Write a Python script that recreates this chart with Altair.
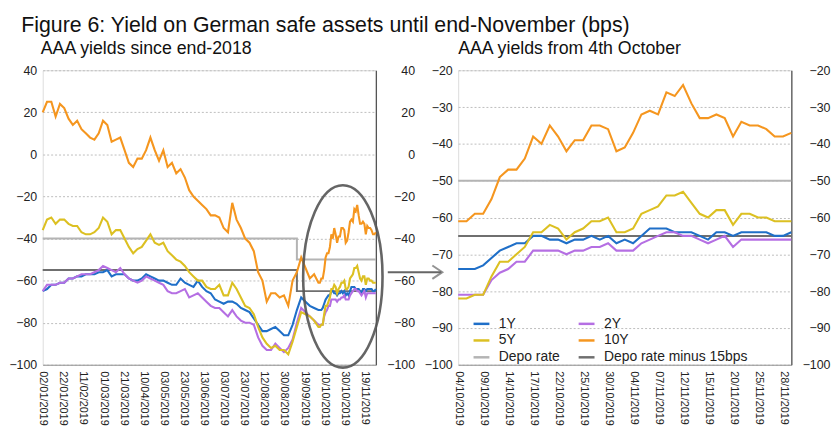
import altair as alt
import pandas as pd

# ---------------- data ----------------
HOLIDAYS = ["2019-04-19", "2019-04-22", "2019-05-01", "2019-06-10", "2019-10-03"]
_bd = pd.bdate_range("2019-01-02", "2019-11-29")
_bd = _bd[~_bd.isin(pd.to_datetime(HOLIDAYS))]
ALL_DATES = [d.strftime("%d/%m/%Y") for d in _bd]          # 233 trading days
OCT_START = ALL_DATES.index("04/10/2019")                   # 192
EARLY_DATES = ALL_DATES[0:190:3]                            # sampled Jan-Sep
OCT_DATES = ALL_DATES[OCT_START:]                           # daily from 4 Oct

LEFT_TICKS = ["02/01/2019", "22/01/2019", "11/02/2019", "01/03/2019", "21/03/2019",
              "10/04/2019", "03/05/2019", "23/05/2019", "13/06/2019", "03/07/2019",
              "23/07/2019", "12/08/2019", "30/08/2019", "19/09/2019", "10/10/2019",
              "30/10/2019", "19/11/2019"]
RIGHT_TICKS = ["04/10/2019", "09/10/2019", "14/10/2019", "17/10/2019", "22/10/2019",
               "25/10/2019", "30/10/2019", "04/11/2019", "07/11/2019", "12/11/2019",
               "15/11/2019", "20/11/2019", "25/11/2019", "28/11/2019"]

Y1_EARLY = [-65, -64, -62, -62, -61, -61, -59, -59, -58, -58,
            -57, -57, -57, -56, -56, -55, -58, -57, -57, -57,
            -59, -60, -60, -59, -57, -58, -59, -60, -60, -61,
            -62, -62, -59, -61, -62, -63, -60, -63, -65, -66,
            -69, -70, -71, -70, -70, -71, -73, -74, -75, -78,
            -81, -84, -84, -83, -82, -84, -86, -86, -81, -74,
            -68, -70, -72, -73]
Y2_EARLY = [-65, -62, -62, -62, -61, -61, -59, -59, -58, -57,
            -57, -57, -56, -55, -53, -54, -55, -56, -54, -57,
            -59, -60, -61, -60, -58, -59, -60, -61, -62, -65,
            -66, -66, -65, -64, -68, -67, -66, -68, -70, -72,
            -73, -73, -75, -77, -74, -77, -79, -80, -80, -81,
            -87, -91, -93, -93, -90, -92, -94, -92, -88, -80,
            -73, -75, -77, -79]
Y5_EARLY = [-36, -31, -30, -33, -31, -31, -33, -34, -34, -37,
            -38, -38, -37, -35, -30, -32, -38, -36, -36, -40,
            -44, -47, -45, -44, -41, -38, -42, -43, -42, -46,
            -48, -50, -51, -53, -56, -58, -60, -60, -63, -64,
            -64, -62, -67, -67, -61, -64, -68, -72, -73, -76,
            -82, -87, -90, -92, -91, -93, -93, -95, -89, -82,
            -75, -76, -77, -79]
Y10_EARLY = [20, 25, 25, 18, 24, 22, 17, 14, 16, 12,
             10, 8, 7, 10, 16, 14, 6, 7, 8, 2,
             -4, -6, -2, -2, 2, 8, 2, -3, 2, -6,
             -4, -9, -7, -11, -17, -20, -22, -24, -26, -29,
             -29, -30, -35, -37, -23, -31, -35, -40, -42, -46,
             -56, -60, -70, -66, -66, -68, -67, -72, -60, -56,
             -49, -54, -59, -57]

Y1_OCT = [-74, -74, -74, -73, -71, -69, -68, -67, -67, -65, -65, -66, -66, -67, -66,
          -66, -65, -66, -65, -67, -66, -67, -65, -63, -63, -63, -64, -64, -64, -65,
          -66, -64, -64, -65, -64, -64, -64, -64, -65, -65, -64]
Y2_OCT = [-81, -81, -81, -81, -77, -75, -74, -72, -72, -69, -69, -69, -69, -70, -69,
          -69, -68, -68, -67, -69, -69, -69, -67, -66, -65, -64, -64, -65, -65, -66,
          -67, -66, -65, -68, -66, -66, -66, -66, -66, -66, -66]
Y5_OCT = [-82, -82, -81, -81, -76, -72, -72, -70, -68, -64, -64, -62, -63, -66, -64,
          -63, -61, -61, -60, -64, -64, -63, -59, -58, -57, -54, -54, -53, -56, -59,
          -60, -58, -58, -62, -59, -59, -60, -60, -61, -61, -61]
Y10_OCT = [-61, -61, -59, -59, -55, -49, -47, -47, -44, -38, -40, -35, -38, -42, -39,
           -39, -35, -35, -36, -42, -41, -37, -32, -31, -32, -26, -27, -24, -29, -33,
           -33, -32, -33, -38, -34, -35, -35, -36, -38, -38, -37]

DEPO_LEFT_DATES = ["02/01/2019", "12/09/2019", "29/11/2019"]
DEPO_LEFT = [-40, -50, -50]
DEPO15_LEFT = [-55, -65, -65]
DEPO_RIGHT_DATES = ["04/10/2019", "29/11/2019"]
DEPO_RIGHT = [-50, -50]
DEPO15_RIGHT = [-65, -65]

SERIES = ["1Y", "2Y", "5Y", "10Y"]
COLOR_DOMAIN = ["1Y", "2Y", "5Y", "10Y", "Depo rate", "Depo rate minus 15bps"]
COLOR_RANGE = ["#1f6fc8", "#b56fe3", "#dcc022", "#f5961f", "#b4b4b4", "#6f6f6f"]

FONT = "Liberation Sans"
W, H = 336, 297

left_rows, right_rows = [], []
for name, early, octv in zip(SERIES, [Y1_EARLY, Y2_EARLY, Y5_EARLY, Y10_EARLY],
                             [Y1_OCT, Y2_OCT, Y5_OCT, Y10_OCT]):
    for d, v in zip(EARLY_DATES + OCT_DATES, early + octv):
        left_rows.append({"date": d, "value": v, "series": name})
    for d, v in zip(OCT_DATES, octv):
        right_rows.append({"date": d, "value": v, "series": name})
left_df = pd.DataFrame(left_rows)
right_df = pd.DataFrame(right_rows)

depo_left = pd.DataFrame(
    [{"date": d, "value": v, "series": "Depo rate"} for d, v in zip(DEPO_LEFT_DATES, DEPO_LEFT)] +
    [{"date": d, "value": v, "series": "Depo rate minus 15bps"} for d, v in zip(DEPO_LEFT_DATES, DEPO15_LEFT)])
depo_right = pd.DataFrame(
    [{"date": d, "value": v, "series": "Depo rate"} for d, v in zip(DEPO_RIGHT_DATES, DEPO_RIGHT)] +
    [{"date": d, "value": v, "series": "Depo rate minus 15bps"} for d, v in zip(DEPO_RIGHT_DATES, DEPO15_RIGHT)])

ellipse_df = pd.DataFrame({"date": ["29/10/2019"], "value": [-58]})
arrow_df = pd.DataFrame({"value": [-56]})


def x_enc(domain, ticks):
    return alt.X("date:O", sort=None,
                 scale=alt.Scale(type="point", domain=domain, padding=0),
                 axis=alt.Axis(values=ticks, labelAngle=90, labelFontSize=11, ticks=False,
                               domain=True, domainColor="#9a9a9a", domainWidth=1.2,
                               grid=False, labelPadding=6, title=None, labelOverlap=False,
                               labelFont=FONT, labelColor="#222"))


def panel(df, depo, domain, ticks, ydom, yvals, legend, extra=None):
    ysc = alt.Scale(domain=ydom, nice=False, zero=False)
    color = alt.Color("series:N", scale=alt.Scale(domain=COLOR_DOMAIN, range=COLOR_RANGE),
                      legend=legend)
    xe = x_enc(domain, ticks)
    depo_layer = alt.Chart(depo).mark_line(interpolate="step-after", strokeWidth=2).encode(
        x=xe,
        y=alt.Y("value:Q", scale=ysc,
                axis=alt.Axis(values=yvals, orient="right", grid=False, ticks=False,
                              domain=True, domainColor="#555", domainWidth=1.3,
                              labelAlign="right", labelPadding=39, labelFontSize=12.5,
                              labelFont=FONT, labelColor="#222", title=None)),
        color=color, detail="series:N")
    lines = alt.Chart(df).mark_line(strokeWidth=2.1).encode(
        x=xe,
        y=alt.Y("value:Q", scale=ysc,
                axis=alt.Axis(values=yvals, orient="left", grid=True, gridDash=[2, 2],
                              gridColor="#bdbdbd", gridWidth=1, ticks=False, domain=False,
                              labelPadding=6, labelFontSize=12.5, labelFont=FONT,
                              labelColor="#222", title=None)),
        color=color)
    layers = [depo_layer, lines]
    if extra:
        layers += extra(xe, ysc)
    return alt.layer(*layers).resolve_axis(y="independent").properties(width=W, height=H)


def annotations(xe, ysc):
    ell = alt.Chart(ellipse_df).mark_point(
        shape="M 0 -1 A 0.435 1 0 1 1 0 1 A 0.435 1 0 1 1 0 -1 Z",
        size=184 * 184, filled=False, stroke="#555555", strokeWidth=2.6, opacity=0.9
    ).encode(x=xe, y=alt.Y("value:Q", scale=ysc, axis=None))
    shaft = alt.Chart(arrow_df).mark_rule(stroke="#666666", strokeWidth=2).encode(
        x=alt.value(W + 12), x2=alt.value(W + 66),
        y=alt.Y("value:Q", scale=ysc, axis=None))
    head = alt.Chart(arrow_df).mark_point(
        shape="M -0.75 -1 L 0.75 0 L -0.75 1", size=180, filled=False,
        stroke="#666666", strokeWidth=2
    ).encode(x=alt.value(W + 62), y=alt.Y("value:Q", scale=ysc, axis=None))
    return [ell, shaft, head]


legend = alt.Legend(title=None, orient="none", legendX=14, legendY=246, columns=2,
                    direction="horizontal",
                    symbolType="stroke", symbolSize=256, symbolStrokeWidth=2.5,
                    labelFontSize=14, labelFont=FONT, labelColor="#222",
                    columnPadding=13, rowPadding=-2, labelOffset=8, padding=0)

left = panel(left_df, depo_left, ALL_DATES, LEFT_TICKS, [-100, 40],
             [40, 20, 0, -20, -40, -60, -80, -100], None, annotations).properties(
    title=alt.TitleParams("AAA yields since end-2018", anchor="start", fontSize=17.9,
                          fontWeight="normal", font=FONT, color="#111", offset=6,
                          frame="group", dx=-2))
right = panel(right_df, depo_right, OCT_DATES, RIGHT_TICKS, [-100, -20],
              [-20, -30, -40, -50, -60, -70, -80, -90, -100], legend).properties(
    title=alt.TitleParams("AAA yields from 4th October", anchor="start", fontSize=17.9,
                          fontWeight="normal", font=FONT, color="#111", offset=6,
                          frame="group"))

chart = alt.hconcat(left, right, spacing=83, bounds="flush").resolve_legend(
    color="independent"
).properties(
    title=alt.TitleParams("Figure 6: Yield on German safe assets until end-November (bps)",
                          anchor="start", fontSize=21.5, fontWeight="normal", font=FONT,
                          color="#111", dx=13, offset=4),
    padding={"left": 0, "top": 5, "right": 0, "bottom": 0},
).configure_view(stroke=None).configure(background="white")

chart.save("out.html", embed_options={"renderer": "svg", "actions": False})
